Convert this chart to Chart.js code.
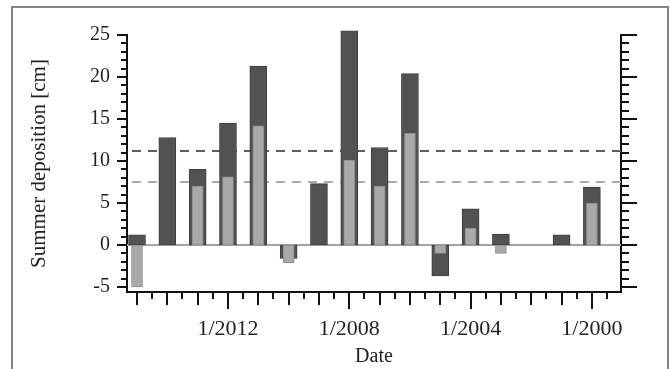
<!DOCTYPE html>
<html>
<head>
<meta charset="utf-8">
<script src="https://cdn.jsdelivr.net/npm/chart.js@4/dist/chart.umd.min.js"></script>
<style>
  html, body { margin: 0; padding: 0; background: #fff; overflow: hidden; }
  #wrap { position: relative; width: 671px; height: 369px; }
  #frame { position: absolute; left: 11px; top: 6px; width: 654px; height: 400px; border: 2px solid #858585; pointer-events: none; }
  canvas { position: absolute; left: 0; top: 0; }
</style>
</head>
<body>
<div id="wrap">
  <canvas id="grafico" width="671" height="369"></canvas>
  <div id="frame"></div>
</div>
<script>
// summer of each year (january), newest first
const anos = [2015, 2014, 2013, 2012, 2011, 2010, 2009, 2008, 2007, 2006, 2005, 2004, 2003, 2001, 2000];
const serieEscura = [1.2, 12.8, 9.0, 14.5, 21.3, -1.6, 7.3, 25.5, 11.6, 20.4, -3.7, 4.3, 1.3, 1.2, 6.9];
const serieClara = [-5.0, 0, 7.0, 8.1, 14.2, -2.1, 0, 10.1, 7.0, 13.3, -1.0, 2.0, -1.0, 0, 5.0];

// horizontal reference lines
const mediaEscura = 11.2;
const mediaClara = 7.5;

const ticksX = [2012, 2008, 2004, 2000];
const ticksY = [-5, 0, 5, 10, 15, 20, 25];

const xMin = 1999.04, xMax = 2015.33;
const yMin = -5.6, yMax = 25;

const fonte = "'Liberation Serif', 'DejaVu Serif', serif";

// tick marks drawn through the scales
const marcasEixos = {
  id: 'marcasEixos',
  afterDraw(chart) {
    const ctx = chart.ctx;
    const x = chart.scales.x, y = chart.scales.y;
    const area = chart.chartArea;
    ctx.save();
    ctx.strokeStyle = '#111';
    ctx.lineWidth = 2;
    ctx.beginPath();
    // bottom: every half year
    for (let t = 1999.5; t <= xMax; t += 0.5) {
      const px = Math.round(x.getPixelForValue(t));
      let len = (t % 1 === 0) ? 13 : 7;
      if (ticksX.includes(t)) len = 17;
      ctx.moveTo(px, area.bottom);
      ctx.lineTo(px, area.bottom + len);
    }
    // left and right: every unit
    for (let v = -5; v <= 25; v++) {
      const py = Math.round(y.getPixelForValue(v));
      const maior = v % 5 === 0;
      ctx.moveTo(area.left, py);
      ctx.lineTo(area.left - (maior ? 10 : 6), py);
      ctx.moveTo(area.right, py);
      ctx.lineTo(area.right + (maior ? 16 : 8), py);
    }
    ctx.stroke();
    ctx.restore();
  }
};

const ctx = document.getElementById('grafico').getContext('2d');

new Chart(ctx, {
  type: 'bar',
  data: {
    datasets: [
      {
        label: 'clara',
        data: anos.map((a, i) => ({ x: a, y: serieClara[i] })),
        backgroundColor: '#a9a9a9',
        borderColor: '#8e8e8e',
        borderWidth: 1,
        borderSkipped: false,
        barThickness: 11,
        grouped: false,
        clip: false,
        order: 1
      },
      {
        label: 'escura',
        data: anos.map((a, i) => ({ x: a, y: serieEscura[i] })),
        backgroundColor: '#525252',
        borderColor: '#3e3e3e',
        borderWidth: 1,
        borderSkipped: false,
        barThickness: 17,
        grouped: false,
        clip: false,
        order: 2
      },
      {
        type: 'line',
        data: [{ x: xMin, y: mediaEscura }, { x: xMax, y: mediaEscura }],
        borderColor: '#5e5e5e',
        borderWidth: 2,
        borderDash: [9, 7],
        pointRadius: 0,
        order: 3
      },
      {
        type: 'line',
        data: [{ x: xMin, y: mediaClara }, { x: xMax, y: mediaClara }],
        borderColor: '#ababab',
        borderWidth: 2,
        borderDash: [9, 7],
        pointRadius: 0,
        order: 4
      },
      {
        type: 'line',
        data: [{ x: xMin, y: 0 }, { x: xMax, y: 0 }],
        borderColor: '#a3a3a3',
        borderWidth: 2,
        pointRadius: 0,
        order: 5
      }
    ]
  },
  options: {
    responsive: false,
    animation: false,
    devicePixelRatio: 1,
    layout: { padding: { top: 35, left: 0, right: 0, bottom: 0 } },
    plugins: {
      legend: { display: false },
      tooltip: { enabled: false },
      title: { display: false }
    },
    scales: {
      x: {
        type: 'linear',
        reverse: true,
        min: xMin,
        max: xMax,
        offset: false,
        afterFit: s => { s.height = 77; },
        afterBuildTicks: s => { s.ticks = ticksX.map(v => ({ value: v })); },
        grid: { display: false, drawTicks: false },
        border: { display: true, color: '#111', width: 2 },
        ticks: {
          autoSkip: false,
          maxRotation: 0,
          padding: 24,
          color: '#222',
          font: { family: fonte, size: 22 },
          callback: v => '1/' + v
        },
        title: {
          display: true,
          text: 'Date',
          color: '#222',
          font: { family: fonte, size: 20 },
          padding: { top: 0, bottom: 0 }
        }
      },
      y: {
        position: 'left',
        min: yMin,
        max: yMax,
        afterFit: s => { s.width = 127; },
        afterBuildTicks: s => { s.ticks = ticksY.map(v => ({ value: v })); },
        grid: { display: false, drawTicks: false },
        border: { display: true, color: '#111', width: 2 },
        ticks: {
          padding: 17,
          color: '#222',
          font: { family: fonte, size: 20 }
        },
        title: {
          display: true,
          text: 'Summer deposition [cm]',
          color: '#222',
          font: { family: fonte, size: 21 },
          padding: { top: 27, bottom: 0 }
        }
      },
      y2: {
        position: 'right',
        min: yMin,
        max: yMax,
        afterFit: s => { s.width = 50; },
        grid: { display: false, drawTicks: false },
        border: { display: true, color: '#111', width: 2 },
        ticks: { display: false }
      }
    }
  },
  plugins: [marcasEixos]
});
</script>
</body>
</html>
